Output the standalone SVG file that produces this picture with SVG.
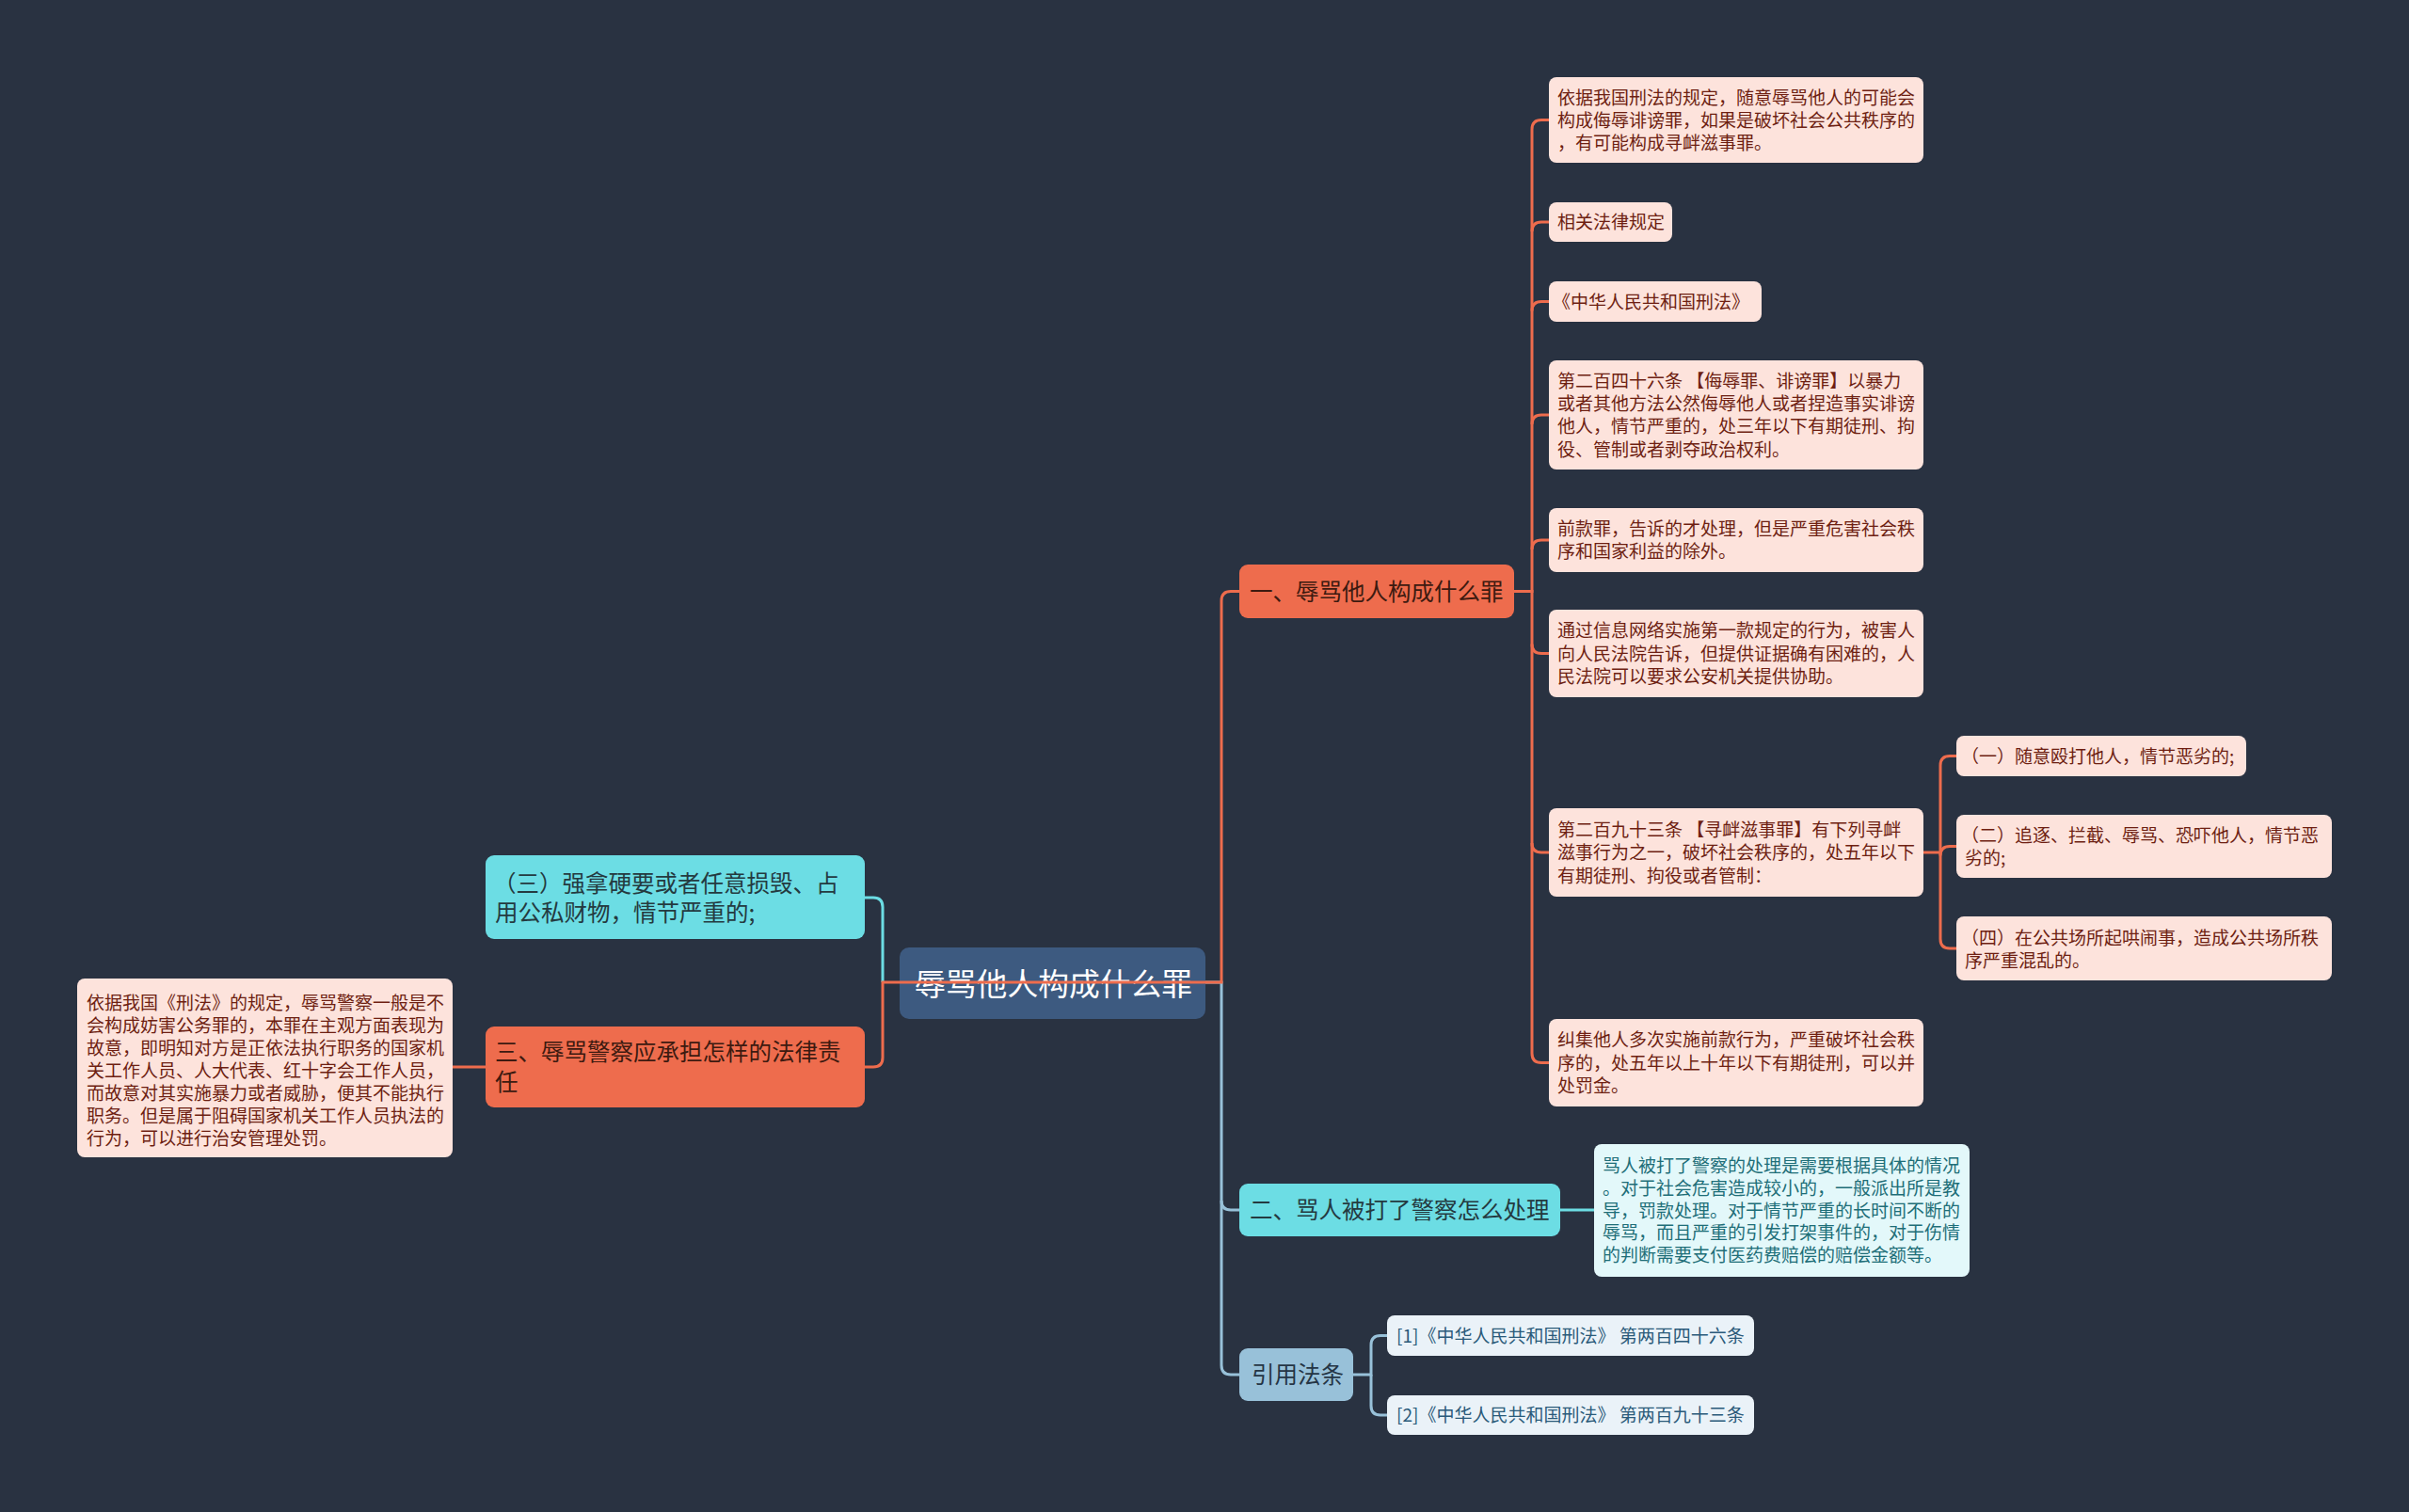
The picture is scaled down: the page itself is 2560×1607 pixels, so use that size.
<svg xmlns="http://www.w3.org/2000/svg" width="2560" height="1607" viewBox="0 0 2560 1607">
<defs>
<style>
text{font-family:"Noto Sans CJK SC","Noto Sans",sans-serif;dominant-baseline:central;transform:translateY(-1.5px)}
.root rect{fill:#3d5a80}
.root text{fill:#ffffff;font-size:32.8px}
.b-or rect{fill:#ee6c4d}
.b-or text{fill:#3d1a10;font-size:24.5px}
.b-cy rect{fill:#6cdde4}
.b-cy text{fill:#243a40;font-size:24.5px}
.b-bl rect{fill:#98c1d9}
.b-bl text{fill:#253545;font-size:24.5px}
.l-or rect{fill:#fde3dc}
.l-or text{fill:#6e1f12;font-size:19px}
.l-cy rect{fill:#e3f8fa}
.l-cy text{fill:#1e6e78;font-size:19px}
.l-bl rect{fill:#eaf2f8}
.l-bl text{fill:#2a5a7a;font-size:19px}
.c{fill:none;stroke-width:3}
.c-or{stroke:#ee6c4d}
.c-cy{stroke:#6cdde4}
.c-bl{stroke:#98c1d9}
</style>
</defs>
<rect x="0" y="0" width="2560" height="1607" fill="#293241"/>

<g id="nodes">
<g id="root" class="root"><rect x="956" y="1007" width="325" height="76" rx="10"/><text x="972" y="1045">辱骂他人构成什么罪</text></g>

<g id="b1" class="b-or"><rect x="1317" y="600" width="292" height="57" rx="9"/><text x="1328" y="628.5">一、辱骂他人构成什么罪</text></g>
<g id="b2" class="b-cy"><rect x="1317" y="1258" width="341" height="56" rx="9"/><text x="1328" y="1286">二、骂人被打了警察怎么处理</text></g>
<g id="b3" class="b-bl"><rect x="1317" y="1433" width="121" height="56" rx="9"/><text x="1330" y="1461">引用法条</text></g>
<g id="b4" class="b-cy"><rect x="516" y="909" width="403" height="89" rx="9"/><text x="524" y="939">（三）强拿硬要或者任意损毁、占</text><text x="526" y="970">用公私财物，情节严重的;</text></g>
<g id="b5" class="b-or"><rect x="516" y="1091" width="403" height="86" rx="9"/><text x="526" y="1118">三、辱骂警察应承担怎样的法律责</text><text x="526" y="1150">任</text></g>

<g id="l1" class="l-or"><rect x="1646" y="82" width="398" height="91" rx="8"/><text x="1655" y="103.5">依据我国刑法的规定，随意辱骂他人的可能会</text><text x="1655" y="127.8">构成侮辱诽谤罪，如果是破坏社会公共秩序的</text><text x="1655" y="152">，有可能构成寻衅滋事罪。</text></g>
<g id="l2" class="l-or"><rect x="1646" y="215" width="131" height="42" rx="8"/><text x="1655" y="236">相关法律规定</text></g>
<g id="l3" class="l-or"><rect x="1646" y="299" width="226" height="43" rx="8"/><text x="1650" y="320.5">《中华人民共和国刑法》</text></g>
<g id="l4" class="l-or"><rect x="1646" y="383" width="398" height="116" rx="8"/><text x="1655" y="404.5">第二百四十六条 【侮辱罪、诽谤罪】以暴力</text><text x="1655" y="428.8">或者其他方法公然侮辱他人或者捏造事实诽谤</text><text x="1655" y="453.2">他人，情节严重的，处三年以下有期徒刑、拘</text><text x="1655" y="477.5">役、管制或者剥夺政治权利。</text></g>
<g id="l5" class="l-or"><rect x="1646" y="540" width="398" height="68" rx="8"/><text x="1655" y="561.9">前款罪，告诉的才处理，但是严重危害社会秩</text><text x="1655" y="586.2">序和国家利益的除外。</text></g>
<g id="l6" class="l-or"><rect x="1646" y="648" width="398" height="93" rx="8"/><text x="1655" y="670.2">通过信息网络实施第一款规定的行为，被害人</text><text x="1655" y="694.5">向人民法院告诉，但提供证据确有困难的，人</text><text x="1655" y="718.8">民法院可以要求公安机关提供协助。</text></g>
<g id="l7" class="l-or"><rect x="1646" y="859" width="398" height="94" rx="8"/><text x="1655" y="882">第二百九十三条 【寻衅滋事罪】有下列寻衅</text><text x="1655" y="906.3">滋事行为之一，破坏社会秩序的，处五年以下</text><text x="1655" y="930.6">有期徒刑、拘役或者管制：</text></g>
<g id="l8" class="l-or"><rect x="1646" y="1083" width="398" height="93" rx="8"/><text x="1655" y="1105.2">纠集他人多次实施前款行为，严重破坏社会秩</text><text x="1655" y="1129.5">序的，处五年以上十年以下有期徒刑，可以并</text><text x="1655" y="1153.8">处罚金。</text></g>
<g id="s1" class="l-or"><rect x="2079" y="782" width="308" height="43" rx="8"/><text x="2084" y="803.5">（一）随意殴打他人，情节恶劣的;</text></g>
<g id="s2" class="l-or"><rect x="2079" y="866" width="399" height="67" rx="8"/><text x="2084" y="888">（二）追逐、拦截、辱骂、恐吓他人，情节恶</text><text x="2088" y="912.3">劣的;</text></g>
<g id="s4" class="l-or"><rect x="2079" y="974" width="399" height="68" rx="8"/><text x="2084" y="996.5">（四）在公共场所起哄闹事，造成公共场所秩</text><text x="2088" y="1020.6">序严重混乱的。</text></g>
<g id="l9" class="l-cy"><rect x="1694" y="1216" width="399" height="141" rx="8"/><text x="1703" y="1239">骂人被打了警察的处理是需要根据具体的情况</text><text x="1703" y="1262.8">。对于社会危害造成较小的，一般派出所是教</text><text x="1703" y="1286.6">导，罚款处理。对于情节严重的长时间不断的</text><text x="1703" y="1310.4">辱骂，而且严重的引发打架事件的，对于伤情</text><text x="1703" y="1334.2">的判断需要支付医药费赔偿的赔偿金额等。</text></g>
<g id="r1" class="l-bl"><rect x="1474" y="1398" width="390" height="43" rx="8"/><text x="1484" y="1419.5">[1]《中华人民共和国刑法》 第两百四十六条</text></g>
<g id="r2" class="l-bl"><rect x="1474" y="1483" width="390" height="42" rx="8"/><text x="1484" y="1504">[2]《中华人民共和国刑法》 第两百九十三条</text></g>
<g id="l10" class="l-or"><rect x="82" y="1040" width="399" height="190" rx="8"/><text x="92" y="1066">依据我国《刑法》的规定，辱骂警察一般是不</text><text x="92" y="1090">会构成妨害公务罪的，本罪在主观方面表现为</text><text x="92" y="1114">故意，即明知对方是正依法执行职务的国家机</text><text x="92" y="1138">关工作人员、人大代表、红十字会工作人员，</text><text x="92" y="1162">而故意对其实施暴力或者威胁，便其不能执行</text><text x="92" y="1186">职务。但是属于阻碍国家机关工作人员执法的</text><text x="92" y="1210">行为，可以进行治安管理处罚。</text></g>
</g>

<g id="connectors">
<path class="c c-cy" d="M919 954 H928 Q938 954 938 964 V1044"/>
<path class="c c-bl" d="M1281 1044 H1298 V1276 Q1298 1286 1308 1286 H1317"/>
<path class="c c-bl" d="M1298 1276 V1451 Q1298 1461 1308 1461 H1317"/>
<path class="c c-or" d="M1317 628.5 H1308 Q1298 628.5 1298 638.5 V1044 H938 V1124 Q938 1134 928 1134 H919"/>
<path class="c c-or" d="M516 1134 H481"/>
<path class="c c-or" d="M1609 628.5 H1628 V137.5 Q1628 127.5 1638 127.5 H1646"/>
<path class="c c-or" d="M1628 246 Q1628 236 1638 236 H1646"/>
<path class="c c-or" d="M1628 330.5 Q1628 320.5 1638 320.5 H1646"/>
<path class="c c-or" d="M1628 451 Q1628 441 1638 441 H1646"/>
<path class="c c-or" d="M1628 584 Q1628 574 1638 574 H1646"/>
<path class="c c-or" d="M1628 684.5 Q1628 694.5 1638 694.5 H1646"/>
<path class="c c-or" d="M1609 628.5 H1628 V1119.5 Q1628 1129.5 1638 1129.5 H1646"/>
<path class="c c-or" d="M1628 896 Q1628 906 1638 906 H1646"/>
<path class="c c-or" d="M2044 906 H2062 V813.5 Q2062 803.5 2072 803.5 H2079"/>
<path class="c c-or" d="M2062 906 V909.5 Q2062 899.5 2072 899.5 H2079"/>
<path class="c c-or" d="M2062 906 V998 Q2062 1008 2072 1008 H2079"/>
<path class="c c-cy" d="M1658 1286 H1694"/>
<path class="c c-bl" d="M1438 1461 H1457 V1429.5 Q1457 1419.5 1467 1419.5 H1474"/>
<path class="c c-bl" d="M1457 1461 V1494 Q1457 1504 1467 1504 H1474"/>
</g>
</svg>
